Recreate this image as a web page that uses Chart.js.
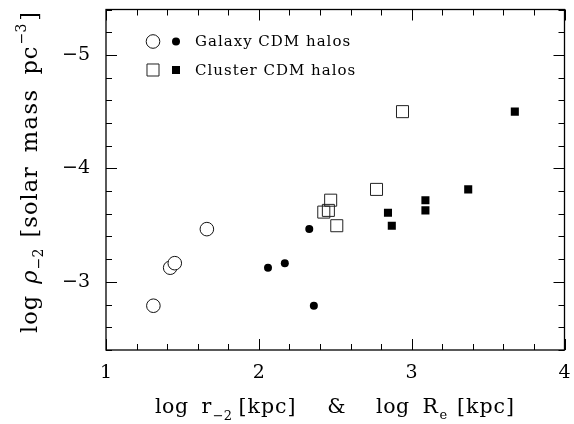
<!DOCTYPE html>
<html>
<head>
<meta charset="utf-8">
<script src="https://cdn.jsdelivr.net/npm/chart.js@4.4.1/dist/chart.umd.min.js"></script>
<style>
  html, body { margin: 0; padding: 0; background: #fff; }
  #wrap { width: 574px; height: 424px; }
</style>
</head>
<body>
<div id="wrap"><canvas id="chart" width="574" height="424"></canvas></div>
<script>
// values
const galaxyOpenX = [1.31, 1.42, 1.45, 1.66];
const galaxyOpenY = [-2.79, -3.125, -3.165, -3.465];
const galaxyFilledX = [2.06, 2.17, 2.33, 2.36];
const galaxyFilledY = [-3.125, -3.165, -3.465, -2.79];
const clusterOpenX = [2.425, 2.455, 2.47, 2.51, 2.77, 2.94];
const clusterOpenY = [-3.615, -3.63, -3.72, -3.495, -3.815, -4.5];
const clusterFilledX = [2.845, 2.87, 3.09, 3.09, 3.37, 3.675];
const clusterFilledY = [-3.61, -3.495, -3.63, -3.72, -3.815, -4.5];

const xTicks = [1, 2, 3, 4];
const yTicks = [-5, -4, -3];
const legendLabels = ['Galaxy CDM halos', 'Cluster CDM halos'];

const SERIF = '"DejaVu Serif", serif';
const toPoints = (xs, ys) => xs.map((x, i) => ({ x: x, y: ys[i] }));

const styles = {
    openCircle: { pointStyle: 'circle', pointRadius: 6.8, pointBackgroundColor: '#fff', pointBorderColor: '#111', pointBorderWidth: 1 },
    fillCircle: { pointStyle: 'circle', pointRadius: 4, pointBackgroundColor: '#000', pointBorderColor: '#000', pointBorderWidth: 0 },
    openSquare: { pointStyle: 'rect', pointRadius: 8.5, pointBackgroundColor: 'rgba(255,255,255,0)', pointBorderColor: '#222', pointBorderWidth: 1 },
    fillSquare: { pointStyle: 'rect', pointRadius: 5.7, pointBackgroundColor: '#000', pointBorderColor: '#000', pointBorderWidth: 0 }
};

// title pieces laid out one after another, gaps stretched so the line spans start..end
function drawFitted(ctx, pieces, start, end) {
    const setFont = p => {
        ctx.font = (p.italic ? 'italic ' : '') + p.size + 'px ' + SERIF;
        ctx.letterSpacing = (p.ls || 0) + 'px';
    };
    let used = 0, weights = 0;
    pieces.forEach(p => {
        setFont(p);
        p.w = ctx.measureText(p.t).width;
        used += p.w;
        weights += p.gap || 0;
    });
    const unit = weights ? (end - start - used) / weights : 0;
    let x = start;
    pieces.forEach(p => {
        x += (p.gap || 0) * unit;
        setFont(p);
        ctx.fillText(p.t, x, p.dy || 0);
        x += p.w;
    });
    ctx.letterSpacing = '0px';
}

const framePlugin = {
    id: 'frame',
    afterDatasetsDraw(chart) {
        const ctx = chart.ctx;
        const a = chart.chartArea;
        const xs = chart.scales.x, ys = chart.scales.y;
        ctx.save();
        ctx.strokeStyle = '#000';
        ctx.lineWidth = 1.3;
        ctx.strokeRect(a.left, a.top, a.right - a.left, a.bottom - a.top);

        ctx.lineWidth = 1;
        ctx.beginPath();
        for (let i = 0; i <= 15; i++) {
            const v = 1 + i * 0.2;
            const len = i % 5 === 0 ? 11 : 6;
            const px = Math.round(xs.getPixelForValue(v)) + 0.5;
            ctx.moveTo(px, a.bottom); ctx.lineTo(px, a.bottom - len);
            ctx.moveTo(px, a.top); ctx.lineTo(px, a.top + len);
        }
        for (let i = 0; i <= 15; i++) {
            const v = -5.4 + i * 0.2;
            const len = (i - 2) % 5 === 0 ? 11 : 6;
            const py = Math.round(ys.getPixelForValue(v)) + 0.5;
            ctx.moveTo(a.left, py); ctx.lineTo(a.left + len, py);
            ctx.moveTo(a.right, py); ctx.lineTo(a.right - len, py);
        }
        ctx.stroke();

        // legend
        const rows = [
            { y: 41.5, a: styles.openCircle, b: styles.fillCircle, text: legendLabels[0] },
            { y: 70, a: styles.openSquare, b: styles.fillSquare, text: legendLabels[1] }
        ];
        rows.forEach(r => {
            [[r.a, 153], [r.b, 176]].forEach(([st, x]) => {
                ctx.fillStyle = st.pointBackgroundColor === 'rgba(255,255,255,0)' ? '#fff' : st.pointBackgroundColor;
                ctx.strokeStyle = st.pointBorderColor;
                ctx.lineWidth = st.pointBorderWidth || 0.0001;
                Chart.helpers.drawPoint(ctx, { pointStyle: st.pointStyle, radius: st.pointRadius, borderWidth: st.pointBorderWidth, rotation: 0 }, x, r.y);
            });
            ctx.fillStyle = '#000';
            ctx.font = '15px ' + SERIF;
            ctx.letterSpacing = '1px';
            ctx.textBaseline = 'middle';
            ctx.textAlign = 'left';
            ctx.fillText(r.text, 195, r.y + 1);
            ctx.letterSpacing = '0px';
        });

        // axis titles
        ctx.fillStyle = '#000';
        ctx.textBaseline = 'alphabetic';
        ctx.textAlign = 'left';
        ctx.save();
        ctx.translate(0, 413);
        drawFitted(ctx, [
            { t: 'log', size: 20.5, ls: 0.5 },
            { t: 'r', size: 20.5, gap: 8 },
            { t: '\u22122', size: 13, dy: 7, gap: 1 },
            { t: '[kpc]', size: 20.5, ls: 1, gap: 4 },
            { t: '&', size: 20.5, gap: 19 },
            { t: 'log', size: 20.5, ls: 0.5, gap: 19 },
            { t: 'R', size: 20.5, gap: 8 },
            { t: 'e', size: 13, dy: 6, gap: 1 },
            { t: '[kpc]', size: 20.5, ls: 1, gap: 6 }
        ], 155, 515);
        ctx.restore();

        ctx.translate(37, 0);
        ctx.rotate(-Math.PI / 2);
        drawFitted(ctx, [
            { t: 'log', size: 22.5, ls: 1 },
            { t: '\u03c1', size: 22.5, italic: true, gap: 8 },
            { t: '\u22122', size: 14, dy: 6, gap: 1 },
            { t: '[solar', size: 22.5, ls: 1, gap: 8 },
            { t: 'mass', size: 22.5, ls: 1.5, gap: 10 },
            { t: 'pc', size: 22.5, ls: 1, gap: 10 },
            { t: '\u22123', size: 14, dy: -11, gap: 1 },
            { t: ']', size: 22.5, gap: 2 }
        ], -333, -12);
        ctx.restore();
    }
};

const noPad = s => { s.paddingTop = 0; s.paddingBottom = 0; s.paddingLeft = 0; s.paddingRight = 0; };

new Chart(document.getElementById('chart'), {
    type: 'scatter',
    data: {
        datasets: [
            Object.assign({ data: toPoints(galaxyOpenX, galaxyOpenY) }, styles.openCircle),
            Object.assign({ data: toPoints(galaxyFilledX, galaxyFilledY) }, styles.fillCircle),
            Object.assign({ data: toPoints(clusterOpenX, clusterOpenY) }, styles.openSquare),
            Object.assign({ data: toPoints(clusterFilledX, clusterFilledY) }, styles.fillSquare)
        ]
    },
    options: {
        responsive: false, animation: false, events: [],
        layout: { padding: { top: 7, right: 6, left: 0, bottom: 0 } },
        plugins: { legend: { display: false }, tooltip: { enabled: false } },
        scales: {
            x: {
                type: 'linear', min: 1, max: 4,
                afterBuildTicks: s => { s.ticks = xTicks.map(v => ({ value: v })); },
                afterFit: s => { s.height = 74; noPad(s); },
                grid: { display: false, drawTicks: false },
                border: { display: false },
                ticks: { padding: 12, color: '#000', font: { family: SERIF, size: 19 }, callback: v => String(v) }
            },
            y: {
                type: 'linear', min: -5.4, max: -2.4, reverse: true,
                afterBuildTicks: s => { s.ticks = yTicks.map(v => ({ value: v })); },
                afterFit: s => { s.width = 106; noPad(s); },
                grid: { display: false, drawTicks: false },
                border: { display: false },
                ticks: { padding: 16, color: '#000', font: { family: SERIF, size: 19 }, callback: v => '\u2212' + Math.abs(v) }
            }
        }
    },
    plugins: [framePlugin]
});
</script>
</body>
</html>
